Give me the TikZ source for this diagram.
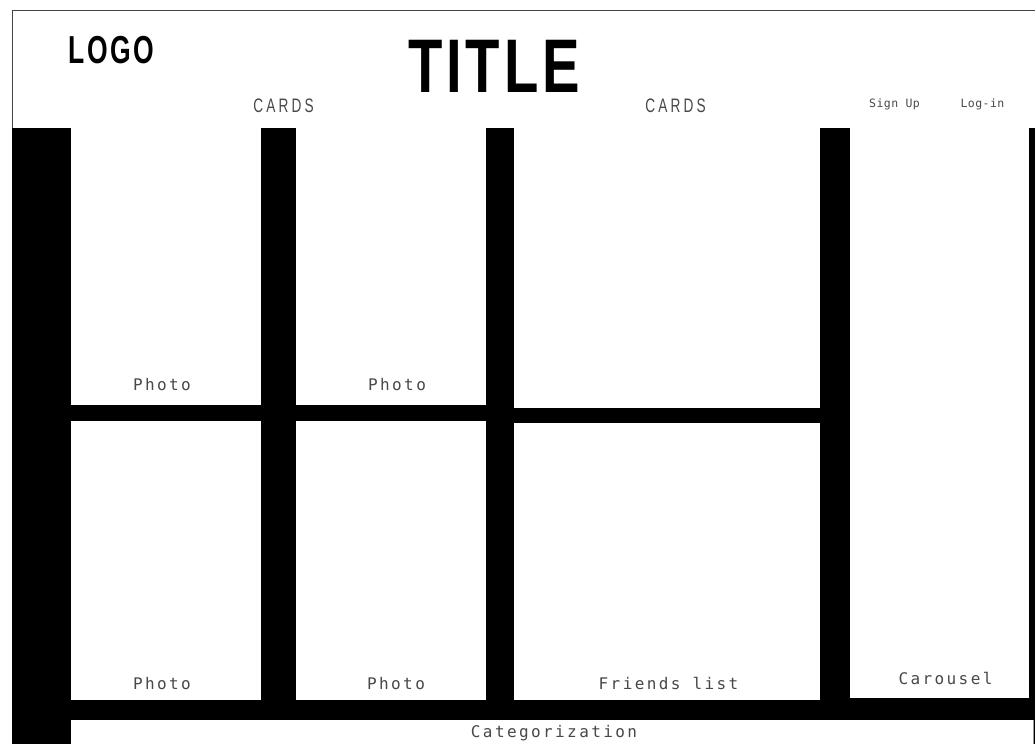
\documentclass[tikz,border=0pt]{standalone}
\usepackage{fontspec}
\newfontfamily\headfont[FakeStretch=0.74,LetterSpace=5]{Liberation Sans}
\newfontfamily\logofont[FakeStretch=0.68,LetterSpace=6]{Liberation Sans}
\newfontfamily\cardfont[FakeStretch=0.7,LetterSpace=16]{Liberation Sans}
\newfontfamily\labfont[LetterSpace=15]{DejaVu Sans Mono}
\newfontfamily\navfont[LetterSpace=4]{DejaVu Sans Mono}
\definecolor{labgray}{HTML}{484848}
\definecolor{linegray}{HTML}{444444}
\tikzset{
  panel/.style={fill=white},
  lab/.style={anchor=base, inner sep=0pt, text=labgray, font=\labfont\fontsize{16}{16}\selectfont},
  cardlab/.style={anchor=base, inner sep=0pt, text=labgray, font=\cardfont\fontsize{19.5}{19.5}\selectfont},
  navlab/.style={anchor=base, inner sep=0pt, text=labgray, font=\navfont\fontsize{11.5}{11.5}\selectfont},
  headlab/.style={anchor=base, inner sep=0pt, text=black}
}
\begin{document}
\begin{tikzpicture}[x=1pt,y=-1pt]
\useasboundingbox (0,0) rectangle (1035,744);
% frame
\draw[linegray, line width=1pt] (1035,10) -- (12,10) -- (12,744);
% black body
\fill[black] (12,128) rectangle (1035,744);
% panels
\fill[panel] (71,128) rectangle (261,405);
\fill[panel] (296,128) rectangle (486,405);
\fill[panel] (514,128) rectangle (820,408);
\fill[panel] (71,421) rectangle (261,700);
\fill[panel] (296,421) rectangle (486,700);
\fill[panel] (514,423) rectangle (820,700);
\fill[panel] (850,128) rectangle (1028.5,698);
\fill[panel] (71,720) rectangle (1033,744);
\draw[black!40, line width=0.8pt] (1033.5,720) -- (1033.5,744);
% header texts
\node[headlab, font=\logofont\bfseries\fontsize{39}{39}\selectfont] (logo) at (111.5,63) {LOGO};
\node[headlab, font=\headfont\bfseries\fontsize{76}{76}\selectfont] (title) at (494,92) {TITLE};
\node[cardlab] (cards1) at (283.5,112) {CARDS};
\node[cardlab] (cards2) at (675.5,112) {CARDS};
\node[navlab] (signup) at (894.5,107) {Sign Up};
\node[navlab] (login) at (982.5,107) {Log-in};
% panel labels
\node[lab] (photo1) at (162,390) {Photo};
\node[lab] (photo2) at (397,390) {Photo};
\node[lab] (photo3) at (162,689) {Photo};
\node[lab] (photo4) at (396,689) {Photo};
\node[lab] (friends) at (668.5,689) {Friends list};
\node[lab] (carousel) at (945.5,684) {Carousel};
\node[lab] (categ) at (554,737) {Categorization};
\end{tikzpicture}
\end{document}
